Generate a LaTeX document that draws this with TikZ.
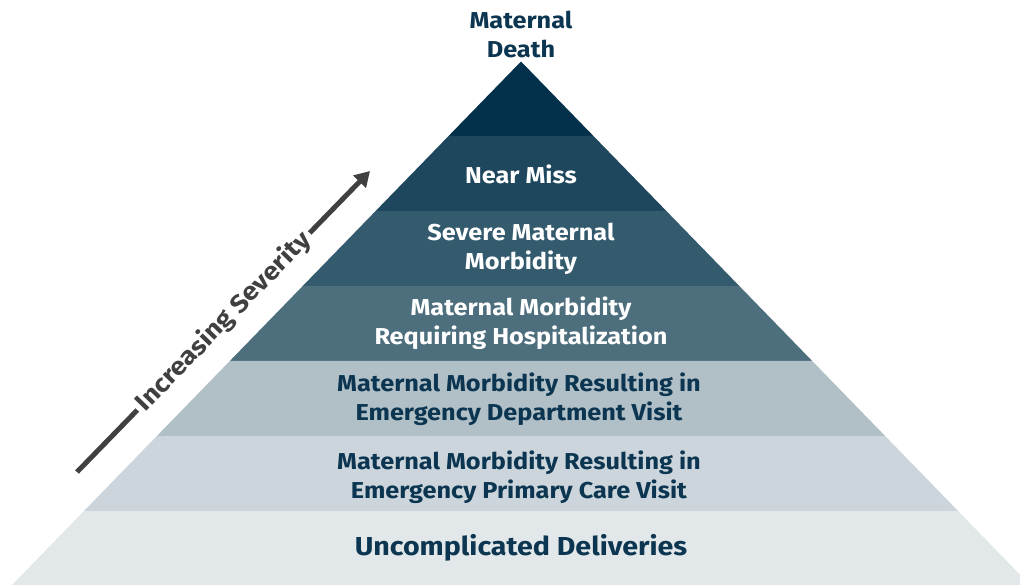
\documentclass[tikz,border=0pt]{standalone}
\usepackage{fontspec}
\setmainfont{Fira Sans}[FakeStretch=1.1]
\usetikzlibrary{calc}
\usetikzlibrary{arrows.meta}

\definecolor{lvlA}{HTML}{03304A}
\definecolor{lvlB}{HTML}{1E475E}
\definecolor{lvlC}{HTML}{335A6D}
\definecolor{lvlD}{HTML}{4D6E7D}
\definecolor{lvlE}{HTML}{B1C0C7}
\definecolor{lvlF}{HTML}{CBD5DB}
\definecolor{lvlG}{HTML}{E2E8EA}
\definecolor{navytxt}{HTML}{0B3550}
\definecolor{sevgrey}{HTML}{404040}

\tikzset{
  lbl/.style={align=center, font=\bfseries\fontsize{23}{29}\selectfont, text=navytxt, inner sep=0pt},
  lbllight/.style={lbl, text=white},
  sevarrow/.style={line width=5pt, draw=sevgrey, -{Triangle[length=15pt,width=17pt]}}
}

\begin{document}
\begin{tikzpicture}[x=1pt, y=-1pt]
    \useasboundingbox (0,0) rectangle (1020,585);

    \coordinate (apex) at (521,61.5);
    \coordinate (baseL) at (12,585);
    \coordinate (baseR) at (1030,585);

    % pyramid bands, top to bottom
    \foreach \ta/\tb/\col in {0/0.1423/lvlA, 0.1423/0.2856/lvlB, 0.2856/0.4289/lvlC,
        0.4289/0.5721/lvlD, 0.5721/0.7154/lvlE, 0.7154/0.8587/lvlF, 0.8587/1/lvlG}
      \fill[\col] ($(apex)!\ta!(baseL)$) -- ($(apex)!\tb!(baseL)$)
        -- ($(apex)!\tb!(baseR)$) -- ($(apex)!\ta!(baseR)$) -- cycle;

    \node[lbl] (death) at (521,34) {Maternal\\Death};
    \node[lbllight] (miss) at (521,174) {Near Miss};
    \node[lbllight] (smm) at (521,249) {Severe Maternal\\Morbidity};
    \node[lbllight] (hosp) at (521,323) {Maternal Morbidity\\Requiring Hospitalization};
    \node[lbl] (edvisit) at (519,399) {Maternal Morbidity Resulting in\\Emergency Department Visit};
    \node[lbl] (pcvisit) at (519,477) {Maternal Morbidity Resulting in\\Emergency Primary Care Visit};
    \node[lbl, font=\bfseries\fontsize{26}{30}\selectfont] (uncompl) at (521,548) {Uncomplicated Deliveries};

    \coordinate (sevlo) at (77,472);
    \coordinate (sevhi) at (370,171);
    \draw[sevarrow] (sevlo) -- node[sloped, fill=white, text=sevgrey, inner sep=4pt,
        font=\bfseries\fontsize{25}{30}\selectfont] (sevtext) {Increasing Severity} (sevhi);
  \end{tikzpicture}
\end{document}
